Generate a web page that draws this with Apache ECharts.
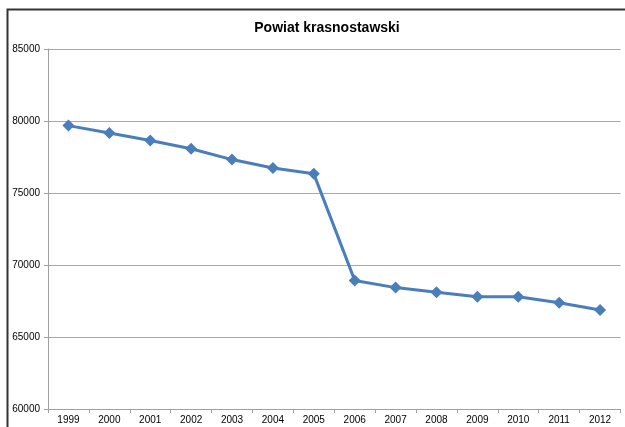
<!DOCTYPE html>
<html>
<head>
<meta charset="utf-8">
<style>
html,body{margin:0;padding:0;background:#fff;}
#c{width:625px;height:427px;}
</style>
<script src="https://cdn.jsdelivr.net/npm/echarts@6/dist/echarts.min.js"></script>
</head>
<body>
<div id="c"></div>
<script>
const years = ['1999','2000','2001','2002','2003','2004','2005','2006','2007','2008','2009','2010','2011','2012'];
const population = [79680, 79170, 78640, 78070, 77320, 76740, 76330, 68930, 68430, 68100, 67800, 67800, 67380, 66880];
const yMin = 60000, yMax = 85000, yStep = 5000;

const chart = echarts.init(document.getElementById('c'), null, {renderer:'canvas'});
chart.setOption({
  animation:false,
  backgroundColor:'#fff',
  title:{
    text:'Powiat krasnostawski',
    left:322, top:16, textAlign:'center',
    textStyle:{fontFamily:'Liberation Sans, Arial', fontSize:14, fontWeight:'bold', color:'#000'}
  },
  graphic:[{
    type:'rect', shape:{x:7.5, y:9.5, width:640, height:440},
    style:{fill:null, stroke:'#333', lineWidth:2}, silent:true
  }],
  grid:{left:48, right:4.5, top:49, bottom:18, containLabel:false},
  xAxis:{
    type:'category', data:years, boundaryGap:true,
    axisLine:{lineStyle:{color:'#a0a0a0', width:1}},
    axisTick:{show:true, length:4, lineStyle:{color:'#a0a0a0'}},
    axisLabel:{color:'#000', fontFamily:'Liberation Sans, Arial', fontSize:10, margin:6}
  },
  yAxis:{
    type:'value', min:yMin, max:yMax, interval:yStep,
    axisLine:{show:true, lineStyle:{color:'#a0a0a0', width:1}},
    axisTick:{show:true, length:4, lineStyle:{color:'#a0a0a0'}},
    splitLine:{lineStyle:{color:'#a8a8a8', width:1}},
    axisLabel:{color:'#000', fontFamily:'Liberation Sans, Arial', fontSize:10, margin:8,
      formatter: v => String(v)}
  },
  series:[{
    type:'line', data:population,
    lineStyle:{color:'#4a7ebb', width:3},
    itemStyle:{color:'#4a7ebb'},
    symbol:'diamond', symbolSize:12, showAllSymbol:true
  }]
});
</script>
</body>
</html>
